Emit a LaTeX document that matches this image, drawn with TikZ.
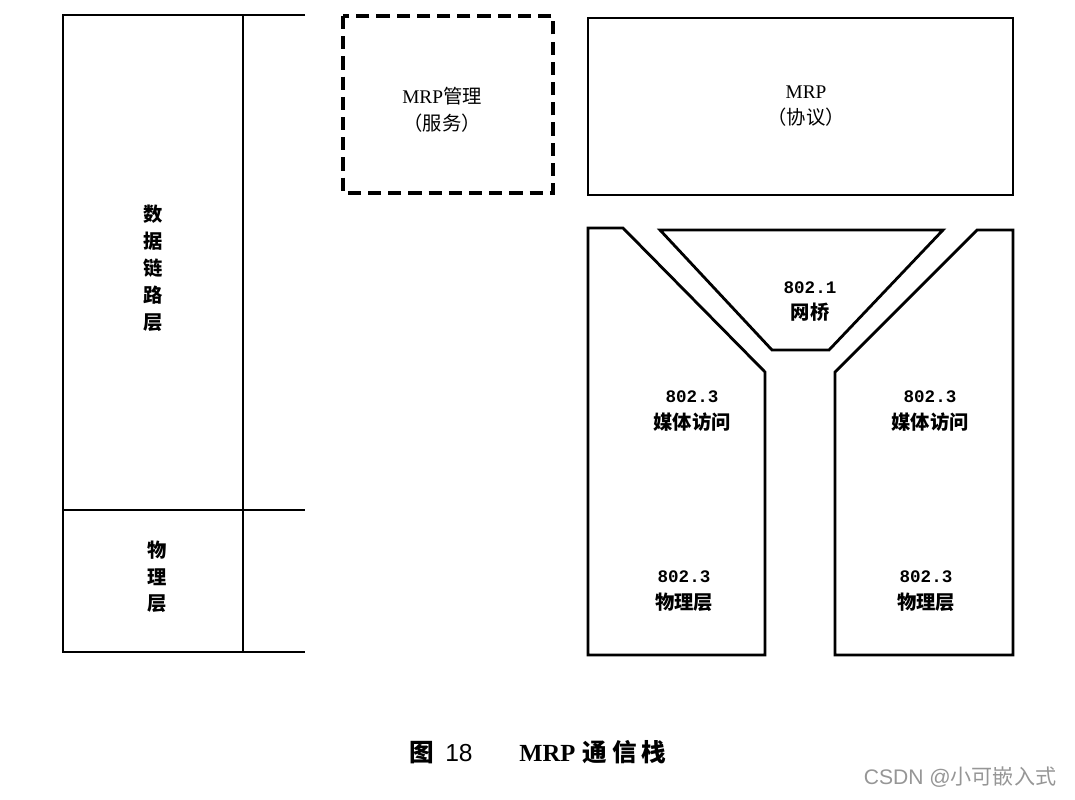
\documentclass[tikz,border=0pt]{standalone}
\usepackage{fontspec}
\setmainfont{Liberation Serif}
\setsansfont{Liberation Sans}
\newfontfamily\cjk{Noto Sans CJK SC}
\newfontfamily\numfont{Liberation Mono}
\usetikzlibrary{positioning}
\definecolor{grigio}{RGB}{150,150,150}

\begin{document}
\begin{tikzpicture}[
    x=0.02cm, y=-0.02cm,
    linea/.style={line width=1.6pt, line join=miter},
    tratteggio/.style={line width=1.9pt, dash pattern=on 7.5pt off 4pt},
    testo/.style={inner sep=0pt, font=\fontsize{11}{13}\selectfont\cjk\bfseries},
    sottile/.style={inner sep=0pt, font=\fontsize{11}{13}\selectfont\cjk},
    numero/.style={inner sep=0pt, font=\fontsize{10}{12}\selectfont\numfont\bfseries}]
    \useasboundingbox (0,0) rectangle (1075,799);

    % Pila di sinistra (strati OSI)
    \draw[linea] (305,15) -- (63,15) -- (63,652) -- (305,652);
    \draw[linea] (243,15) -- (243,652);
    \draw[linea] (63,510) -- (305,510);
    \node[testo, align=center, font=\fontsize{11}{15.3}\selectfont\cjk\bfseries] (dll) at (153,268) {数\\据\\链\\路\\层};
    \node[testo, align=center, font=\fontsize{11}{15}\selectfont\cjk\bfseries] (phy) at (157,577) {物\\理\\层};

    % Gestione MRP (tratteggiata) e protocollo
    \draw[tratteggio] (343,16) rectangle (553,193);
    \node[sottile] (mgmt) at (442,96) {{\rmfamily MRP}管理};
    \node[sottile, below=5pt of mgmt] (mgmtb) {（服务）};
    \draw[linea] (588,18) rectangle (1013,195);
    \node[sottile] (mrp) at (806,92) {{\rmfamily MRP}};
    \node[sottile, below=5pt of mrp] (mrpb) {（协议）};

    % Ponte 802.1 e le due porte 802.3
    \draw[linea] (588,228) -- (623,228) -- (765,372) -- (765,655) -- (588,655) -- cycle;
    \draw[linea] (660,230) -- (943,230) -- (829,350) -- (772,350) -- cycle;
    \draw[linea] (977,230) -- (1013,230) -- (1013,655) -- (835,655) -- (835,372) -- cycle;

    \node[numero] (br) at (810,288) {802.1};
    \node[testo, below=5pt of br] (brb) {网桥};
    \node[numero] (macA) at (692,397) {802.3};
    \node[testo, below=5pt of macA] (macAb) {媒体访问};
    \node[numero] (macB) at (930,397) {802.3};
    \node[testo, below=5pt of macB] (macBb) {媒体访问};
    \node[numero] (phA) at (684,577) {802.3};
    \node[testo, below=5pt of phA] (phAb) {物理层};
    \node[numero] (phB) at (926,577) {802.3};
    \node[testo, below=5pt of phB] (phBb) {物理层};

    % Didascalia
    \node[inner sep=0pt, font=\fontsize{14}{16}\selectfont] (cap) at (538,752)
        {{\cjk\bfseries 图}\hspace{0.45em}{\sffamily 18}\hspace{1.9em}{\bfseries MRP}\hspace{0.3em}{\cjk\bfseries 通\hspace{0.2em}信\hspace{0.2em}栈}};
    \node[inner sep=0pt, text=grigio, font=\fontsize{12}{14}\selectfont\sffamily] (wm) at (960,777)
        {CSDN @{\cjk 小可嵌入式}};
\end{tikzpicture}
\end{document}
